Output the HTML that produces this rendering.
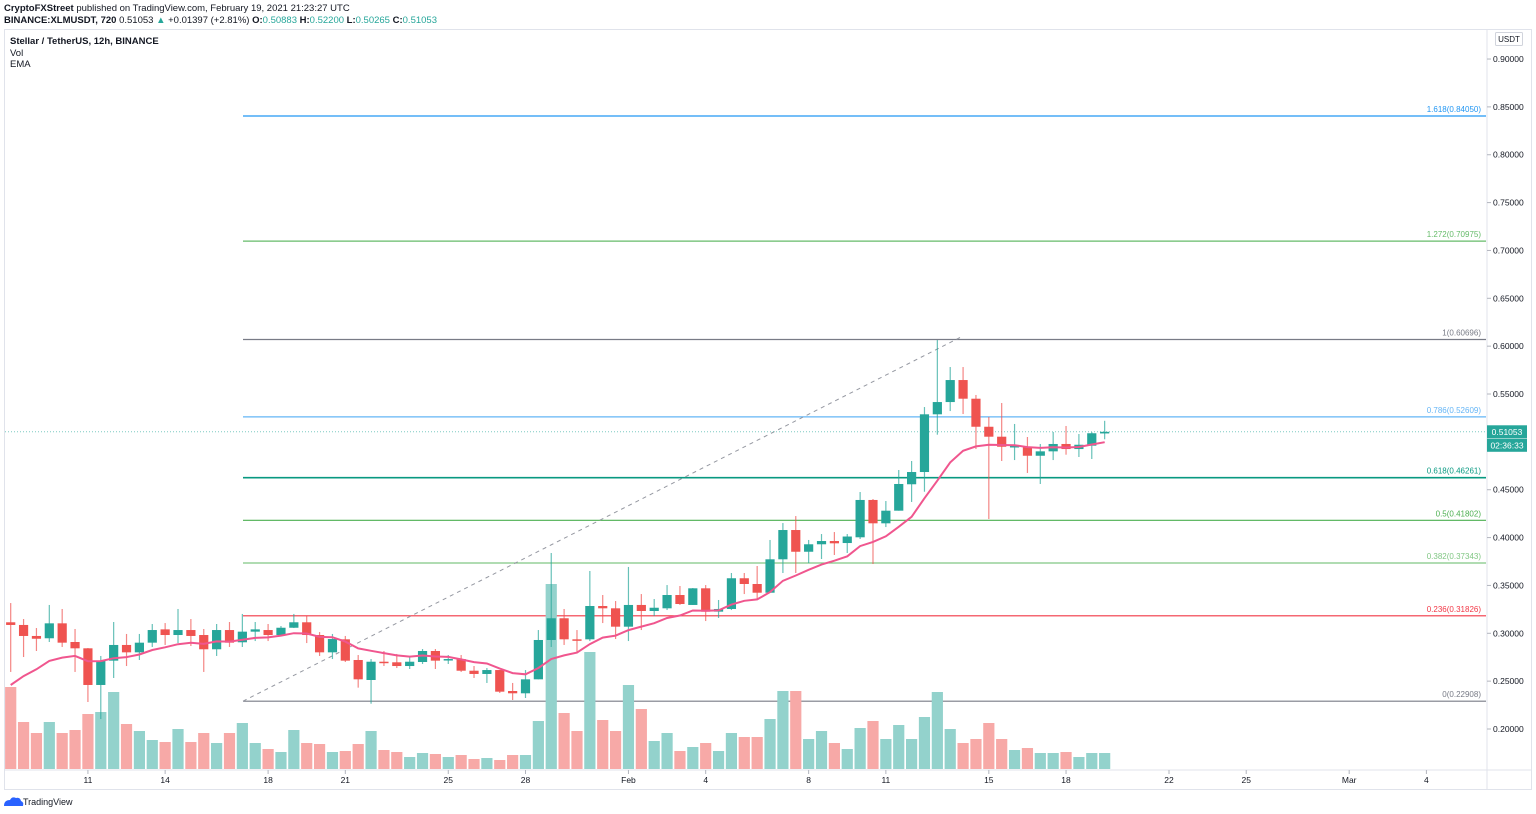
<!DOCTYPE html>
<html><head><meta charset="utf-8">
<style>
html,body{margin:0;padding:0;background:#fff;}
svg{display:block;font-family:"Liberation Sans",sans-serif;}
</style></head>
<body>
<svg id="chart" width="1536" height="814" viewBox="0 0 1536 814" xmlns="http://www.w3.org/2000/svg">
  <rect x="0" y="0" width="1536" height="814" fill="#fff"/>
  <text x="4" y="11" font-size="9.5" fill="#131722"><tspan font-weight="bold">CryptoFXStreet</tspan> published on TradingView.com, February 19, 2021 21:23:27 UTC</text>
  <text x="4" y="23" font-size="9.5" fill="#131722"><tspan font-weight="bold">BINANCE:XLMUSDT, 720</tspan> 0.51053 <tspan fill="#26a69a">▲</tspan> +0.01397 (+2.81%) <tspan font-weight="bold">O:</tspan><tspan fill="#26a69a">0.50883</tspan> <tspan font-weight="bold">H:</tspan><tspan fill="#26a69a">0.52200</tspan> <tspan font-weight="bold">L:</tspan><tspan fill="#26a69a">0.50265</tspan> <tspan font-weight="bold">C:</tspan><tspan fill="#26a69a">0.51053</tspan></text>
  <rect x="4.5" y="29.5" width="1527" height="760" fill="none" stroke="#e0e3eb"/>
  <line x1="1487" y1="30" x2="1487" y2="790" stroke="#e0e3eb"/>
  <line x1="5" y1="770" x2="1531" y2="770" stroke="#e0e3eb"/>
  <text x="10" y="44" font-size="9.5" font-weight="bold" fill="#131722">Stellar / TetherUS, 12h, BINANCE</text>
  <text x="10" y="56" font-size="9.5" fill="#131722">Vol</text>
  <text x="10" y="67" font-size="9.5" fill="#131722">EMA</text>
  <g>
    <rect x="1495.5" y="32.5" width="27" height="13" fill="#fff" stroke="#d1d4dc" rx="1"/>
    <text x="1509" y="42" font-size="8" text-anchor="middle" fill="#131722">USDT</text>
  </g>
  <g id="grid"></g>
  <g id="fib"></g>
  <g id="vol"></g>
  <g id="candles"></g>
  <g id="ema"></g>
  <g id="axes"></g>
  <g>
    <path d="M4 806 q0 -6 6 -6 q2 -4 6 -2 q4 -1 5 3 q3 1 2 5 z" fill="#2962ff"/>
    <text x="23" y="805" font-size="9" fill="#131722">TradingView</text>
  </g>
</svg>
<script>
const opens=[.3115,.3087,.2972,.2948,.3104,.2909,.2843,.2460,.2714,.2878,.2801,.2902,.3041,.2982,.3034,.2982,.2833,.3034,.2906,.3017,.3034,.2982,.3058,.3115,.2982,.2801,.2937,.2721,.2512,.2703,.2697,.2658,.2700,.2815,.2718,.2731,.2609,.2575,.2616,.2397,.2373,.2519,.2930,.3157,.2937,.2937,.3285,.3261,.3069,.3296,.3233,.3261,.3400,.3296,.3470,.3226,.3254,.3575,.3515,.3424,.3773,.4079,.3852,.3930,.3964,.3943,.4003,.4393,.4149,.4281,.4557,.4685,.5288,.5416,.5646,.5451,.5158,.5054,.4946,.4943,.4855,.4901,.4978,.4925,.4960,.5088];
const highs=[.3316,.3149,.3055,.3296,.3254,.3045,.2846,.2763,.3118,.2993,.2993,.3097,.3107,.3254,.3149,.3045,.3097,.3118,.3202,.3118,.3097,.3076,.3202,.3181,.3013,.2993,.2972,.2773,.2731,.2815,.2784,.2752,.2836,.2836,.2773,.2773,.2658,.2637,.2616,.2481,.2616,.3034,.3839,.3254,.3034,.3651,.3400,.3337,.3693,.3410,.3358,.3504,.3494,.3473,.3504,.3348,.3630,.3630,.3703,.3975,.4152,.4225,.3975,.4037,.4058,.4037,.4476,.4403,.4382,.4706,.4800,.5364,.6064,.5782,.5782,.5490,.5260,.5406,.5187,.5051,.4978,.5103,.5166,.5082,.5103,.5220];
const lows=[.2596,.2752,.2815,.2909,.2857,.2596,.2282,.2104,.2533,.2658,.2721,.2857,.2878,.2898,.2867,.2596,.2763,.2857,.2857,.2919,.2919,.2972,.3055,.2898,.2763,.2731,.2700,.2432,.2264,.2658,.2637,.2627,.2679,.2627,.2679,.2596,.2533,.2481,.2376,.2303,.2324,.2519,.2857,.2878,.2804,.2919,.3107,.2940,.2919,.3034,.3181,.3243,.3296,.3296,.3128,.3160,.3243,.3410,.3358,.3421,.3630,.3630,.3734,.3776,.3818,.3839,.3985,.3724,.4110,.4281,.4372,.4479,.5075,.5322,.5291,.4925,.4194,.4800,.4810,.4675,.4560,.4810,.4866,.4842,.4821,.5027];
const closes=[.3087,.2972,.2943,.3104,.2902,.2843,.2460,.2714,.2878,.2801,.2902,.3034,.2982,.3034,.2972,.2833,.3034,.2902,.3017,.3041,.2982,.3058,.3115,.2982,.2801,.2940,.2714,.2519,.2703,.2690,.2658,.2703,.2815,.2714,.2731,.2609,.2575,.2616,.2390,.2373,.2519,.2930,.3157,.2937,.2930,.3285,.3261,.3069,.3296,.3233,.3267,.3400,.3306,.3470,.3226,.3254,.3575,.3515,.3424,.3773,.4079,.3852,.3930,.3964,.3940,.4011,.4393,.4149,.4281,.4560,.4685,.5288,.5416,.5646,.5451,.5158,.5054,.4949,.4957,.4855,.4901,.4978,.4925,.4970,.5090,.5105];
const volumes=[82,47,36,47,36,39,55,57,77,45,38,29,27,40,27,36,26,36,46,26,20,17,39,26,25,17,18,25,38,19,17,12,16,15,12,14,10,11,9,14,14,48,185,56,38,117,49,38,84,60,28,36,18,22,26,18,36,32,32,50,78,78,30,38,26,20,41,48,30,44,30,52,77,40,26,30,46,30,19,21,16,16,17,12,16,16];
const priceTicks=[0.20,0.25,0.30,0.35,0.40,0.45,0.50,0.55,0.60,0.65,0.70,0.75,0.80,0.85,0.90];
const dateLabels=["11","14","18","21","25","28","Feb","4","8","11","15","18","22","25","Mar","4"];
const dateDays=[3,6,10,13,17,20,24,27,31,34,38,41,45,48,52,55];
const fibRatios=["1.618","1.272","1","0.786","0.618","0.5","0.382","0.236","0"];
const fibPrices=[0.84050,0.70975,0.60696,0.52609,0.46261,0.41802,0.37343,0.31826,0.22908];
const fibColors=["#2196f3","#66bb6a","#787b86","#64b5f6","#089981","#4caf50","#81c784","#f23645","#787b86"];
const lastPrice=0.51053;
const emaSeed=0.246, emaPeriod=10;

const NS="http://www.w3.org/2000/svg";
const yOf=p=>729-(p-0.20)*957.1;
const xOf=i=>10.7+12.87*i;
const volY=v=>769-v*1.0;
function mk(parent,tag,attrs){const e=document.createElementNS(NS,tag);for(const k in attrs)e.setAttribute(k,attrs[k]);parent.appendChild(e);return e;}
const G=id=>document.getElementById(id);

// price axis
const axes=G('axes');
priceTicks.forEach(p=>{
  const y=yOf(p);
  mk(axes,'line',{x1:1487,x2:1491,y1:y,y2:y,stroke:'#b2b5be'});
  const t=mk(axes,'text',{x:1493,y:y+3,'font-size':'8.5',fill:'#131722'});
  
  
  t.textContent=p.toFixed(5);
});
dateLabels.forEach((d,k)=>{
  const x=xOf(dateDays[k]*2);
  mk(axes,'line',{x1:x,x2:x,y1:770,y2:774,stroke:'#b2b5be'});
  const t=mk(axes,'text',{x:x,y:783,'font-size':'8.5','text-anchor':'middle',fill:'#131722'});
  
  
  t.textContent=d;
});

// fib
const fib=G('fib');
fibPrices.forEach((p,k)=>{
  const y=yOf(p);
  const l=mk(fib,'line',{x1:243,x2:1486,y1:y,y2:y,stroke:fibColors[k],'stroke-width':k==4?1.6:1.2});
  
  
  const t=mk(fib,'text',{x:1481,y:y-4,'font-size':'8','text-anchor':'end',fill:fibColors[k]});
  
  
  t.textContent=fibRatios[k]+'('+p.toFixed(5)+')';
});
const diag=mk(fib,'line',{x1:243,y1:yOf(fibPrices[8]),x2:960,y2:yOf(fibPrices[2])-2,stroke:'#9598a1','stroke-dasharray':'4,4'});


const lp=mk(fib,'line',{x1:5,x2:1486,y1:yOf(lastPrice),y2:yOf(lastPrice),stroke:'#26a69a','stroke-dasharray':'1,2','stroke-opacity':0.6});



// volume
const vol=G('vol');
volumes.forEach((v,i)=>{
  const up=closes[i]>=opens[i];
  const r=mk(vol,'rect',{x:xOf(i)-5.6,y:volY(v),width:11.2,height:769-volY(v),fill:up?'#93d2cc':'#f7a9a7'});
  
  
});

// candles
const cg=G('candles');
opens.forEach((o,i)=>{
  const c=closes[i], up=c>=o, col=up?'#26a69a':'#ef5350', x=xOf(i);
  const g=mk(cg,'g',{});
  
  
  mk(g,'line',{x1:x,x2:x,y1:yOf(highs[i]),y2:yOf(lows[i]),stroke:col,'stroke-width':1.2,'stroke-opacity':0.7});
  const yt=yOf(Math.max(o,c)), yb=yOf(Math.min(o,c));
  mk(g,'rect',{x:x-4.6,y:yt,width:9.2,height:Math.max(1.5,yb-yt),fill:col});
});

// EMA
let e=emaSeed; const a=2/(emaPeriod+1); const pts=[];
closes.forEach((c,i)=>{ if(i>0) e=e+a*(c-e); pts.push(xOf(i).toFixed(1)+','+yOf(e).toFixed(1)); });
const pl=mk(G('ema'),'polyline',{points:pts.join(' '),fill:'none',stroke:'#f0568e','stroke-width':2});



// price label boxes
const y0=yOf(lastPrice);
const b1=mk(axes,'g',{});


mk(b1,'rect',{x:1487,y:y0-6.5,width:40,height:13,fill:'#26a69a'});
const t1=mk(b1,'text',{x:1507,y:y0+3,'font-size':'8.5','text-anchor':'middle',fill:'#fff'});t1.textContent=lastPrice.toFixed(5);
const b2=mk(axes,'g',{});


mk(b2,'rect',{x:1487,y:y0+7,width:40,height:13,fill:'#26a69a'});
const t2=mk(b2,'text',{x:1507,y:y0+16.5,'font-size':'8.5','text-anchor':'middle',fill:'#fff'});t2.textContent='02:36:33';
</script>
</body></html>
